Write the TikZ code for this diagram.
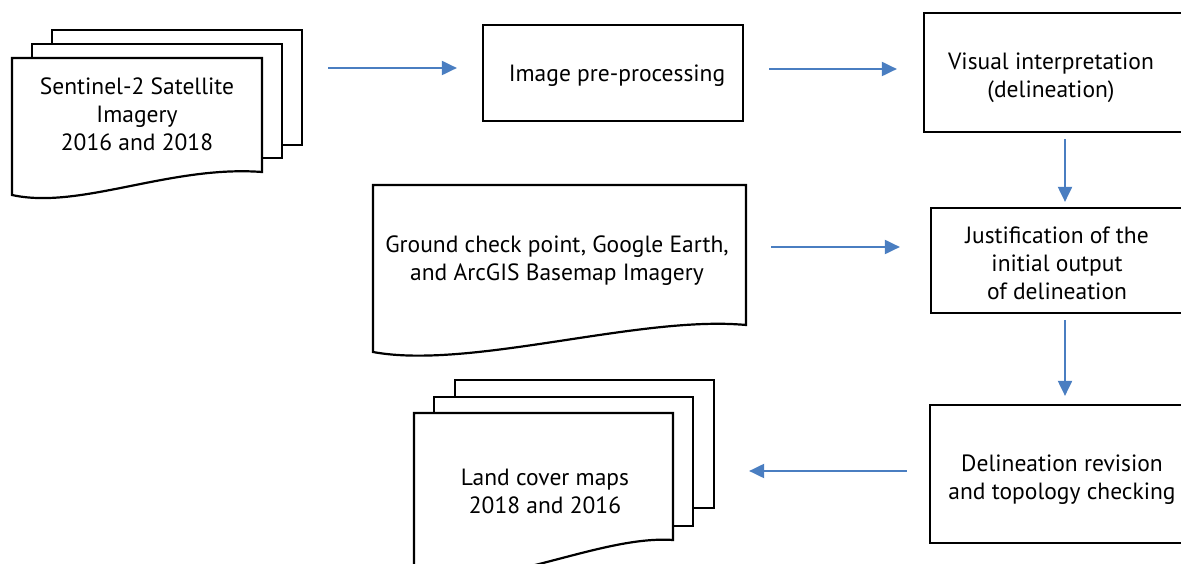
\documentclass[tikz,border=0pt]{standalone}
\usepackage{fontspec}
\setmainfont{PT Sans}
\usetikzlibrary{arrows.meta,calc}
\definecolor{arrblue}{RGB}{74,126,193}
\tikzset{
  pagebox/.style={draw=black, line width=2.2pt, fill=white, inner sep=0pt},
  lbl/.style={font=\fontsize{23.5}{28}\selectfont, align=center, inner sep=0pt},
  flowbox/.style={draw=black, line width=2.2pt, fill=white, inner sep=0pt},
  arr/.style={draw=arrblue, line width=2pt, -{Triangle[length=15pt,width=14pt]}}
}
\begin{document}
\begin{tikzpicture}[x=1pt,y=-1pt]
\useasboundingbox (0,0) rectangle (1181,564);
\clip (0,0) rectangle (1181,564);

% Sentinel-2 stack
\node[pagebox, minimum width=250pt, minimum height=115pt] (sentback) at (177,87.5) {};
\node[pagebox, minimum width=250pt, minimum height=114pt] (sentmid) at (157,101) {};
\draw[pagebox] (12,58) -- (262,58) -- (262,172)
  .. controls (170,165) and (80,210) .. (12,195) -- cycle;
\node[lbl] (sent) at (137,114) {Sentinel-2 Satellite\\Imagery\\2016 and 2018};

% Image pre-processing
\node[flowbox, minimum width=260pt, minimum height=96pt] (pre) at (613,73) {};
\node[lbl] (pretext) at (617,76) {Image pre-processing};

% Visual interpretation
\node[flowbox, minimum width=266pt, minimum height=119pt] (vis) at (1057,72.5) {};
\node[lbl] (vistext) at (1051,77.5) {Visual interpretation\\(delineation)};

% Ground check document
\draw[pagebox] (373,185) -- (746,185) -- (746,325)
  .. controls (640,315) and (470,370) .. (373,352) -- cycle;
\coordinate (gdocE) at (746,247);
\node[lbl] (gdoc) at (557,261) {Ground check point, Google Earth,\\and ArcGIS Basemap Imagery};

% Justification
\node[flowbox, minimum width=259pt, minimum height=105pt] (just) at (1060.5,260.5) {};
\node[lbl] (justtext) at (1057,263) {Justification of the\\initial output\\of delineation};

% Delineation revision
\node[flowbox, minimum width=260pt, minimum height=138pt] (rev) at (1060,474) {};
\node[lbl] (revtext) at (1062,480) {Delineation revision\\and topology checking};

% Land cover stack
\node[pagebox, minimum width=259pt, minimum height=128pt] (landback) at (584.5,444) {};
\node[pagebox, minimum width=259pt, minimum height=129pt] (landmid) at (563.5,461.5) {};
\draw[pagebox] (414,413) -- (673,413) -- (673,540)
  .. controls (600,535) and (500,590) .. (414,578) -- cycle;
\node[lbl] (land) at (545,491) {Land cover maps\\2018 and 2016};

% Connectors
\draw[arr, shorten <=25pt, shorten >=25pt] (sentback.east |- 0,68) -- (pre.west |- 0,68);
\draw[arr, shorten <=25pt, shorten >=26pt] (pre.east |- 0,69) -- (vis.west |- 0,69);
\draw[arr, shorten <=25pt, shorten >=30pt] (gdocE) -- (just.west |- gdocE);
\draw[arr, shorten <=6pt, shorten >=5pt] (vis.south -| 1065,0) -- (just.north -| 1065,0);
\draw[arr, shorten <=6pt, shorten >=8pt] (just.south -| 1065,0) -- (rev.north -| 1065,0);
\draw[arr, shorten <=22pt, shorten >=34pt] (rev.west |- 0,471) -- (landback.east |- 0,471);
\end{tikzpicture}
\end{document}
